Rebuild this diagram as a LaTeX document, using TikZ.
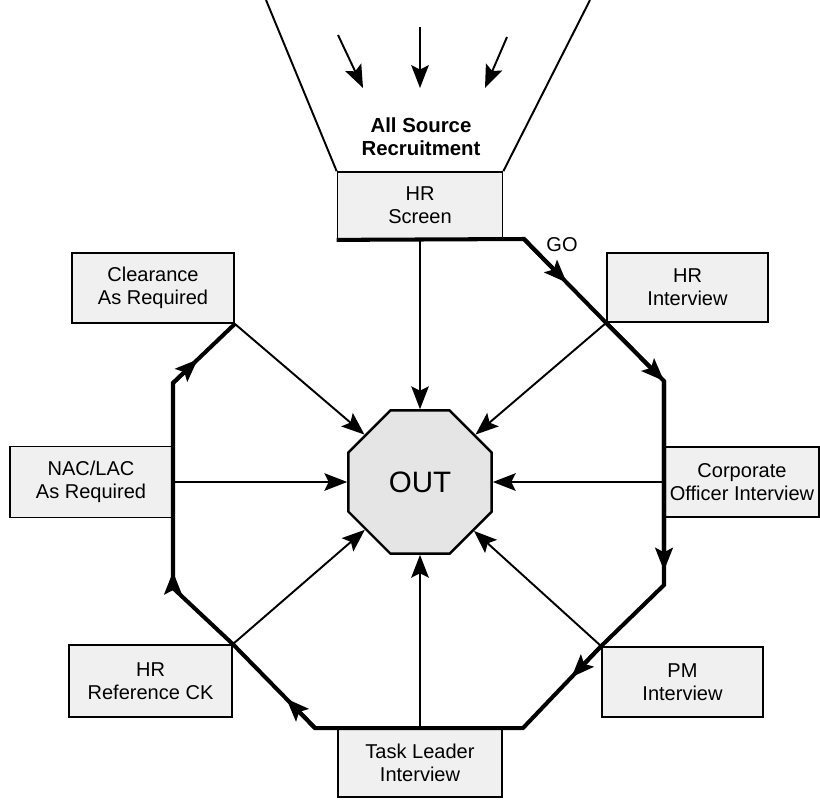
\documentclass[tikz,border=0pt]{standalone}
\usepackage{fontspec}
\setmainfont{Liberation Sans}
\usetikzlibrary{arrows.meta,shapes.geometric,calc}
\begin{document}
\begin{tikzpicture}[x=0.02cm,y=-0.02cm,
  box/.style={draw,line width=1pt,fill=black!6,align=center,inner sep=0pt,font=\fontsize{11.4}{13.2}\selectfont},
  thinline/.style={line width=1.1pt},
  tip/.style={-{Stealth[length=13pt,width=10pt,inset=2.5pt]}},
  flow/.style={line width=2.3pt,line join=miter},
  lbl/.style={align=center,inner sep=0pt,font=\fontsize{11.4}{13.2}\selectfont}
]
\useasboundingbox (0,0) rectangle (820,799);

% boxes
\node[box,minimum width=3.3cm,minimum height=1.34cm] (hrs) at (420,205.5) {HR\\Screen};
\node[box,minimum width=3.22cm,minimum height=1.38cm] (hri) at (687.5,287.5) {HR\\Interview};
\node[box,minimum width=3.08cm,minimum height=1.4cm] (corp) at (742,482) {Corporate\\Officer Interview};
\node[box,minimum width=3.22cm,minimum height=1.4cm] (pm) at (682.5,682) {PM\\Interview};
\node[box,minimum width=3.28cm,minimum height=1.38cm] (tl) at (420,762.5) {Task Leader\\Interview};
\node[box,minimum width=3.26cm,minimum height=1.44cm] (hrr) at (150.5,681) {HR\\Reference CK};
\node[box,minimum width=3.24cm,minimum height=1.42cm] (nac) at (91,482) {NAC/LAC\\As Required};
\node[box,minimum width=3.24cm,minimum height=1.4cm] (cl) at (153,288) {Clearance\\As Required};

\node[regular polygon,regular polygon sides=8,minimum size=3.1cm,draw,line width=1.4pt,
      fill=black!10,inner sep=0pt,font=\fontsize{16.8}{20}\selectfont] (out) at (420,482) {OUT};

% funnel
\coordinate (fl) at (266,0);
\coordinate (fr) at (590,0);
\draw[thinline] (fl) -- (hrs.north west);
\draw[thinline] (fr) -- (hrs.north east);
\node[lbl,font=\fontsize{11.6}{13.2}\selectfont\bfseries] (asr) at (421,137) {All Source\\Recruitment};

\coordinate (a1s) at (338,35);  \coordinate (a1e) at (363,88);
\coordinate (a2s) at (420,27);  \coordinate (a2e) at (420,88);
\coordinate (a3s) at (507,37);  \coordinate (a3e) at (485,88);
\draw[thinline,tip] (a1s) -- (a1e);
\draw[thinline,tip] (a2s) -- (a2e);
\draw[thinline,tip] (a3s) -- (a3e);

% flow path
\coordinate (g1) at (524,239);
\coordinate (v1) at (664,381);
\coordinate (v2) at (664,585);
\coordinate (v3) at (523,728);
\coordinate (v4) at (315,728);
\coordinate (v5) at (173,588);
\coordinate (v6) at (173,383);
\draw[flow] (hrs.south west) -- (g1) -- (hri.south west) -- (v1) -- (v2) -- (pm.north west)
  -- (v3) -- (v4) -- (hrr.north east) -- (v5) -- (v6) -- (cl.south east);
\node[lbl] (go) at (562,245) {GO};

\draw[flow,tip] (g1) -- ($(g1)!0.52!(hri.south west)$);
\draw[flow,tip] (hri.south west) -- (v1);
\draw[flow,tip] (v1) -- ($(v1)!0.93!(v2)$);
\draw[flow,tip] (pm.north west) -- ($(pm.north west)!0.38!(v3)$);
\draw[flow,tip] (v4) -- ($(v4)!0.35!(hrr.north east)$);
\draw[flow,tip] (v5) -- ($(v5)!0.08!(v6)$);
\draw[flow,tip] (v6) -- ($(v6)!0.4!(cl.south east)$);

% connectors to OUT
\draw[thinline,tip] (hrs.south) -- (out);
\draw[thinline,tip] (hri.south west) -- (out);
\draw[thinline,tip] (corp.west) -- (out);
\draw[thinline,tip] (pm.north west) -- (out);
\draw[thinline,tip] (tl.north) -- (out);
\draw[thinline,tip] (hrr.north east) -- (out);
\draw[thinline,tip] (nac.east) -- (out);
\draw[thinline,tip] (cl.south east) -- (out);
\end{tikzpicture}
\end{document}
